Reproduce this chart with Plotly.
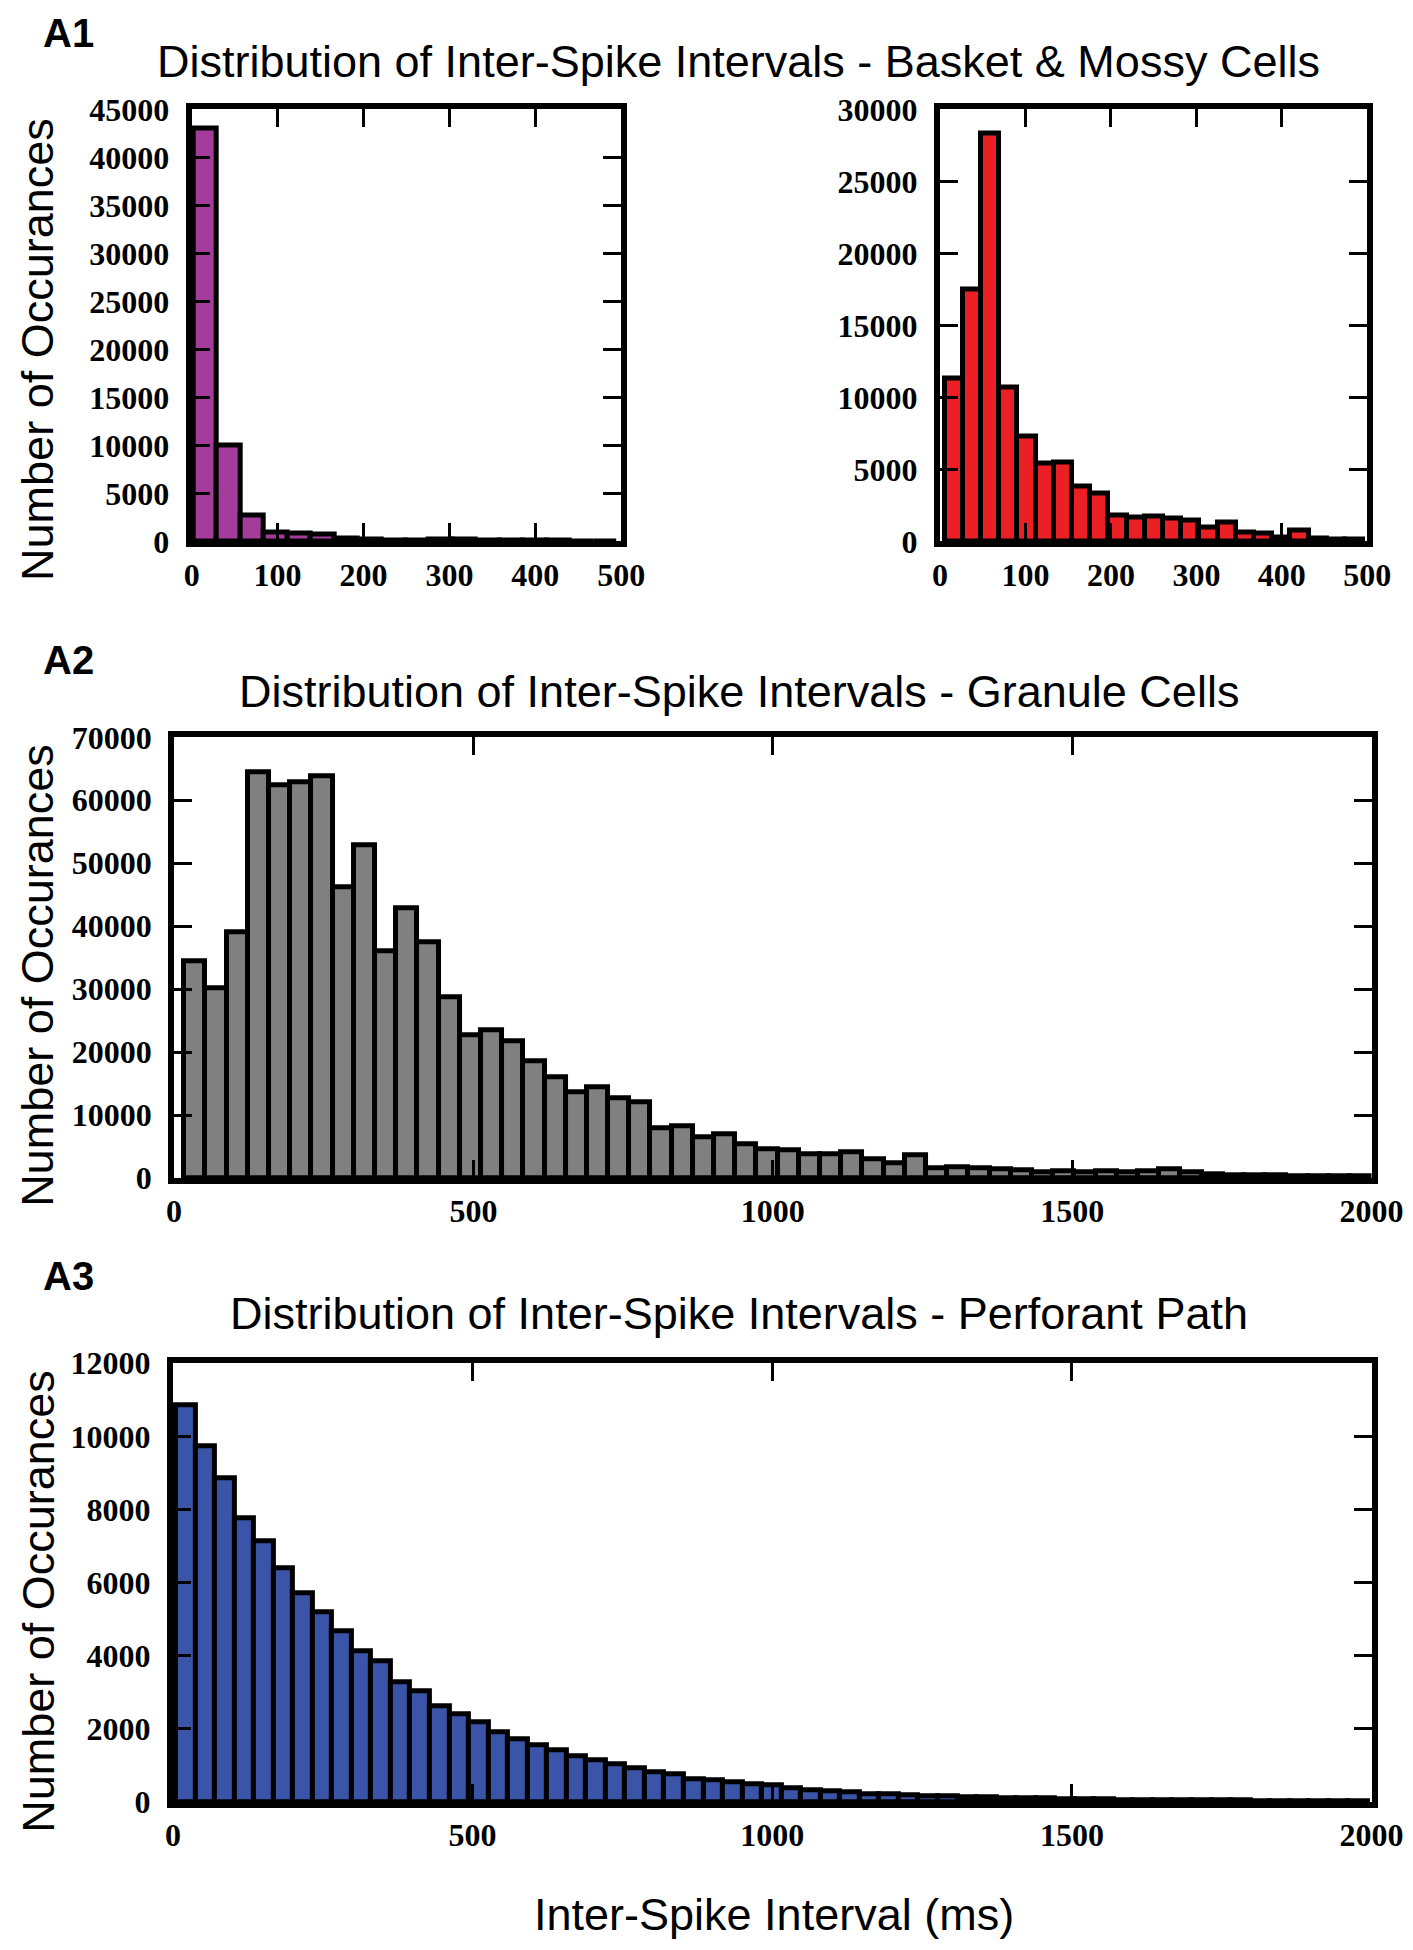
import numpy as np
import plotly.graph_objects as go

# ---- data ----
# A1 left: basket cells
basket_start = 2
basket_width = 27.4
basket_counts = [43000, 10000, 2700, 950, 870, 700, 280, 200, 120, 130,
                 150, 150, 100, 60, 80, 70, 30, 20]

# A1 right: mossy cells
mossy_start = 5.3
mossy_width = 21.3
mossy_counts = [11300, 17500, 28300, 10700, 7300, 5400, 5500, 3800, 3300, 1800,
                1650, 1750, 1600, 1450, 950, 1300, 650, 580, 260, 750,
                210, 130, 100]

# A2: granule cells
granule_start = 17
granule_width = 35.4
granule_counts = [34500, 30200, 39000, 64400, 62300, 62800, 63800, 46200, 52800, 36000,
                  42900, 37500, 28700, 22600, 23500, 21700, 18500, 16000, 13600, 14400,
                  12700, 12100, 7900, 8200, 6400, 7000, 5400, 4600, 4350, 3700,
                  3840, 4050, 3000, 2300, 3630, 1530, 1740, 1580, 1320, 1160,
                  840, 1050, 950, 1100, 900, 1000, 1320, 840, 600, 500,
                  450, 400, 350, 300, 250, 200]

# A3: perforant path
pp_start = 5
pp_width = 32.6
pp_counts = [10850, 9730, 8860, 7760, 7140, 6400, 5710, 5200, 4670, 4120,
             3850, 3280, 3020, 2630, 2400, 2170, 1900, 1720, 1560, 1420,
             1255, 1145, 1030, 935, 825, 750, 615, 595, 550, 475,
             460, 365, 330, 300, 260, 220, 200, 180, 160, 150,
             135, 120, 110, 100, 90, 80, 75, 70, 60, 55,
             50, 45, 40, 38, 35, 30, 28, 25, 22, 20, 18]

titles = ["Distribution of Inter-Spike Intervals - Basket & Mossy Cells",
          "Distribution of Inter-Spike Intervals - Granule Cells",
          "Distribution of Inter-Spike Intervals - Perforant Path"]
panel_labels = ["A1", "A2", "A3"]
ytitle = "Number of Occurances"
xtitle = "Inter-Spike Interval (ms)"

W, H = 1413, 1950
tickfont = dict(family="Liberation Serif", size=32, color="black", weight="bold")
sans = "Liberation Sans"


def hist_bar(start, width, counts, color, xa, ya):
    n = len(counts)
    centers = start + width * (np.arange(n) + 0.5)
    return go.Bar(x=centers, y=counts, width=width, xaxis=xa, yaxis=ya,
                  marker=dict(color=color, line=dict(color="black", width=5)),
                  showlegend=False)


fig = go.Figure()
fig.add_trace(hist_bar(basket_start, basket_width, basket_counts, "#A43C9C", "x", "y"))
fig.add_trace(hist_bar(mossy_start, mossy_width, mossy_counts, "#EC2024", "x2", "y2"))
fig.add_trace(hist_bar(granule_start, granule_width, granule_counts, "#808080", "x3", "y3"))
fig.add_trace(hist_bar(pp_start, pp_width, pp_counts, "#3A55A8", "x4", "y4"))

axis_common = dict(showline=True, linewidth=6, linecolor="black", mirror="allticks",
                   ticks="inside", ticklen=18, tickwidth=3, tickcolor="black",
                   showgrid=False, zeroline=False, tickfont=tickfont, tickformat="d",
                   automargin=False)
yax = dict(axis_common, ticklabelstandoff=10)

ydom1 = [0.7265, 0.948]
ydom2 = [0.400, 0.626]
ydom3 = [0.080, 0.305]

fig.update_layout(
    width=W, height=H, margin=dict(l=0, r=0, t=0, b=0),
    paper_bgcolor="white", plot_bgcolor="white", bargap=0,
    xaxis=dict(domain=[0.1300, 0.434], anchor="y", range=[0, 500], dtick=100, **axis_common),
    yaxis=dict(domain=ydom1, anchor="x", range=[0, 45000], dtick=5000, **yax),
    xaxis2=dict(domain=[0.6596, 0.962], anchor="y2", range=[0, 500], dtick=100, **axis_common),
    yaxis2=dict(domain=ydom1, anchor="x2", range=[0, 30000], dtick=5000, **yax),
    xaxis3=dict(domain=[0.1175, 0.965], anchor="y3", range=[0, 2000], dtick=500, **axis_common),
    yaxis3=dict(domain=ydom2, anchor="x3", range=[0, 70000], dtick=10000, **yax),
    xaxis4=dict(domain=[0.1167, 0.965], anchor="y4", range=[0, 2000], dtick=500, **axis_common),
    yaxis4=dict(domain=ydom3, anchor="x4", range=[0, 12000], dtick=2000, **yax),
)

ann = []
label_y = [0.987, 0.6656, 0.350]
title_y = [0.9727, 0.6497, 0.3306]
ytitle_y = [0.825, 0.504, 0.183]
for i in range(3):
    ann.append(dict(text="<b>%s</b>" % panel_labels[i], x=0.043, y=label_y[i],
                    xref="paper", yref="paper", xanchor="center", yanchor="middle",
                    showarrow=False, font=dict(family=sans, size=40, color="black")))
    ann.append(dict(text=titles[i], x=0.517, y=title_y[i], xref="paper", yref="paper",
                    xanchor="center", yanchor="middle", showarrow=False,
                    font=dict(family=sans, size=45, color="black")))
    ann.append(dict(text=ytitle, x=0.021, y=ytitle_y[i], xref="paper", yref="paper",
                    xanchor="center", yanchor="middle", textangle=-90, showarrow=False,
                    font=dict(family=sans, size=45, color="black")))
ann.append(dict(text=xtitle, x=0.542, y=0.0223, xref="paper", yref="paper",
                xanchor="center", yanchor="middle", showarrow=False,
                font=dict(family=sans, size=45, color="black")))
fig.update_layout(annotations=ann)

fig.write_html("out.html")
